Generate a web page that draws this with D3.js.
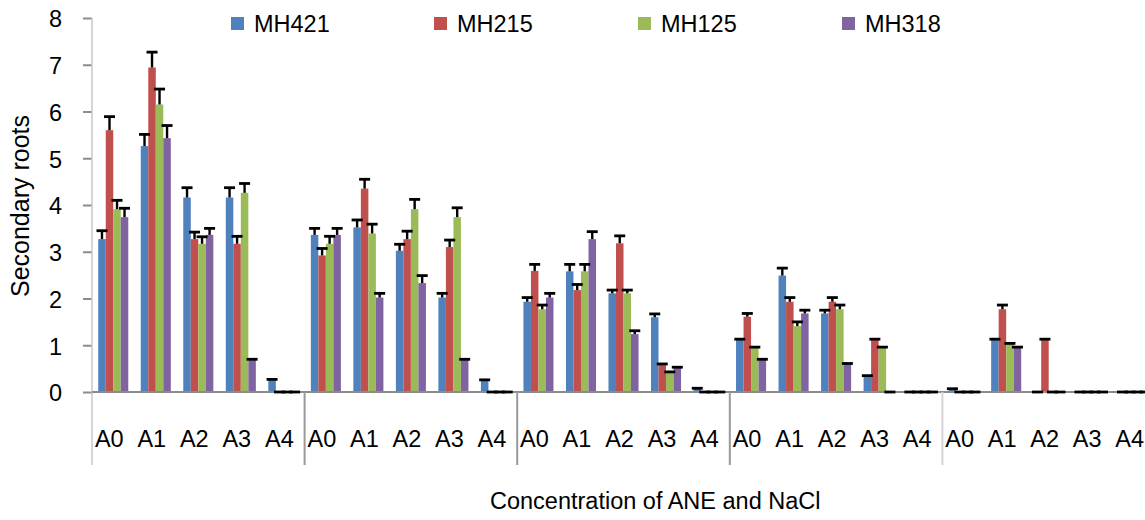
<!DOCTYPE html>
<html>
<head>
<meta charset="utf-8">
<script src="https://cdn.jsdelivr.net/npm/d3@7"></script>
<style>
  html, body { margin: 0; padding: 0; background: #fff; }
  svg { display: block; font-family: "Liberation Sans", Arial, sans-serif; }
</style>
</head>
<body>
<svg id="chart" width="1145" height="520"></svg>
<script>
// Treatment levels, repeated once per block of the experiment
const categories = ["A0", "A1", "A2", "A3", "A4"];
const blockCount = 5;

const seriesNames = ["MH421", "MH215", "MH125", "MH318"];
const seriesColors = ["#4F81BD", "#C0504D", "#9BBB59", "#8064A2"];

// Mean number of secondary roots (5 blocks x A0..A4)
const mh421 = [3.27, 5.26, 4.16, 4.16, 0.27,  3.36, 3.52, 3.02, 2.02, 0.26,  1.93, 2.58, 2.11, 1.60, 0.08,  1.13, 2.49, 1.68, 0.35, 0,  0.07, 1.13, 0, 0, 0];
const mh215 = [5.60, 6.94, 3.27, 3.17, 0,     2.92, 4.35, 3.27, 3.10, 0,     2.59, 2.18, 3.18, 0.60, 0,     1.61, 1.93, 1.93, 1.13, 0,  0, 1.77, 1.13, 0, 0];
const mh125 = [3.91, 6.15, 3.17, 4.26, 0,     3.17, 3.39, 3.91, 3.74, 0,     1.77, 2.58, 2.11, 0.43, 0,     0.96, 1.41, 1.77, 0.96, 0,  0, 1.04, 0, 0, 0];
const mh318 = [3.74, 5.43, 3.36, 0.70, 0,     3.36, 2.02, 2.33, 0.70, 0,     2.02, 3.27, 1.24, 0.53, 0,     0.70, 1.68, 0.61, 0, 0,     0, 0.96, 0, 0, 0];

// Standard errors (upper bars only)
const mh421Err = [0.18, 0.25, 0.21, 0.21, 0,  0.14, 0.16, 0.14, 0.09, 0,  0.09, 0.15, 0.07, 0.07, 0,  0, 0.16, 0.07, 0, 0,  0, 0, 0, 0, 0];
const mh215Err = [0.29, 0.33, 0.15, 0.16, 0,  0.15, 0.20, 0.17, 0.15, 0,  0.14, 0.12, 0.16, 0, 0,     0.07, 0.09, 0.09, 0, 0,  0, 0.09, 0, 0, 0];
const mh125Err = [0.19, 0.33, 0.15, 0.20, 0,  0.16, 0.20, 0.21, 0.20, 0,  0.09, 0.15, 0.07, 0, 0,     0, 0.09, 0.09, 0, 0,     0, 0, 0, 0, 0];
const mh318Err = [0.19, 0.27, 0.14, 0, 0,     0.14, 0.09, 0.16, 0, 0,     0.09, 0.16, 0.07, 0, 0,     0, 0.07, 0, 0, 0,        0, 0, 0, 0, 0];

const yTicks = [0, 1, 2, 3, 4, 5, 6, 7, 8];
const yTitle = "Secondary roots";
const xTitle = "Concentration of ANE and NaCl";

const values = [mh421, mh215, mh125, mh318];
const errors = [mh421Err, mh215Err, mh125Err, mh318Err];

// one slot per block/level combination
const slots = [];
for (let b = 0; b < blockCount; b++) {
  categories.forEach((c, i) => slots.push({ key: b + "-" + c, label: c, block: b, idx: b * categories.length + i }));
}

const svg = d3.select("#chart");
const plotLeft = 92, plotRight = 1155, plotTop = 18, base = 392, lowLine = 465;
const fs = 23.5;

const x = d3.scaleBand().domain(slots.map(d => d.key)).range([plotLeft, plotRight]).padding(0);
const xs = d3.scaleBand().domain(seriesNames).range([0, x.bandwidth()]).paddingInner(0).paddingOuter(0.83);
const y = d3.scaleLinear().domain([0, 8]).range([base, plotTop]);

// y axis
const yAxis = d3.axisLeft(y).tickValues(yTicks).tickSize(9).tickPadding(21).tickFormat(d3.format("d"));
const gy = svg.append("g").attr("transform", `translate(${plotLeft},0)`).call(yAxis);
gy.select(".domain").remove();
gy.selectAll(".tick line").attr("stroke", "#8c8c8c").attr("stroke-width", 2);
gy.selectAll(".tick text").attr("font-size", fs).attr("fill", "#000").attr("dy", "0.38em");
svg.append("line").attr("x1", plotLeft).attr("x2", plotLeft).attr("y1", plotTop).attr("y2", lowLine)
  .attr("stroke", "#c8c8c8").attr("stroke-width", 1.5);

// bars
const bars = [];
slots.forEach(s => {
  seriesNames.forEach((name, si) => {
    bars.push({ slot: s, si, name, v: values[si][s.idx], e: errors[si][s.idx] });
  });
});

svg.append("g").selectAll("rect").data(bars).join("rect")
  .attr("x", d => x(d.slot.key) + xs(d.name))
  .attr("width", xs.bandwidth())
  .attr("y", d => y(d.v))
  .attr("height", d => base - y(d.v))
  .attr("fill", d => seriesColors[d.si]);

// x axis baseline
svg.append("line").attr("x1", plotLeft).attr("x2", 1145).attr("y1", base).attr("y2", base)
  .attr("stroke", "#8c8c8c").attr("stroke-width", 2);

// block separators
for (let b = 1; b < blockCount; b++) {
  const sx = x(b + "-" + categories[0]);
  svg.append("line").attr("x1", sx).attr("x2", sx).attr("y1", base).attr("y2", lowLine)
    .attr("stroke", b === blockCount - 1 ? "#d4d4d4" : "#9a9a9a").attr("stroke-width", 2);
}

// error bars
const eg = svg.append("g").attr("stroke", "#000");
bars.forEach(d => {
  const cx = x(d.slot.key) + xs(d.name) + xs.bandwidth() / 2;
  const yt = y(d.v + d.e);
  if (d.e > 0) {
    eg.append("line").attr("x1", cx).attr("x2", cx).attr("y1", y(d.v)).attr("y2", yt).attr("stroke-width", 2.4);
  }
  eg.append("line").attr("x1", cx - 5.5).attr("x2", cx + 5.5).attr("y1", yt).attr("y2", yt).attr("stroke-width", 2.8);
});

// category labels
svg.append("g").selectAll("text").data(slots).join("text")
  .attr("x", d => x(d.key) + x.bandwidth() / 2 - 4)
  .attr("y", 447)
  .attr("text-anchor", "middle")
  .attr("font-size", fs)
  .attr("fill", "#000")
  .text(d => d.label);

// axis titles
svg.append("text").attr("x", 490).attr("y", 509).attr("font-size", fs).attr("fill", "#000").text(xTitle);
svg.append("text").attr("transform", "translate(29,206) rotate(-90)").attr("text-anchor", "middle")
  .attr("font-size", 25).attr("fill", "#000").text(yTitle);

// legend
const legendX = [231, 434, 638, 842];
const lg = svg.append("g").selectAll("g").data(seriesNames).join("g")
  .attr("transform", (d, i) => `translate(${legendX[i]},0)`);
lg.append("rect").attr("x", 0).attr("y", 17).attr("width", 13).attr("height", 13).attr("fill", (d, i) => seriesColors[i]);
lg.append("text").attr("x", 23).attr("y", 32).attr("font-size", fs).attr("fill", "#000").text(d => d);
</script>
</body>
</html>
